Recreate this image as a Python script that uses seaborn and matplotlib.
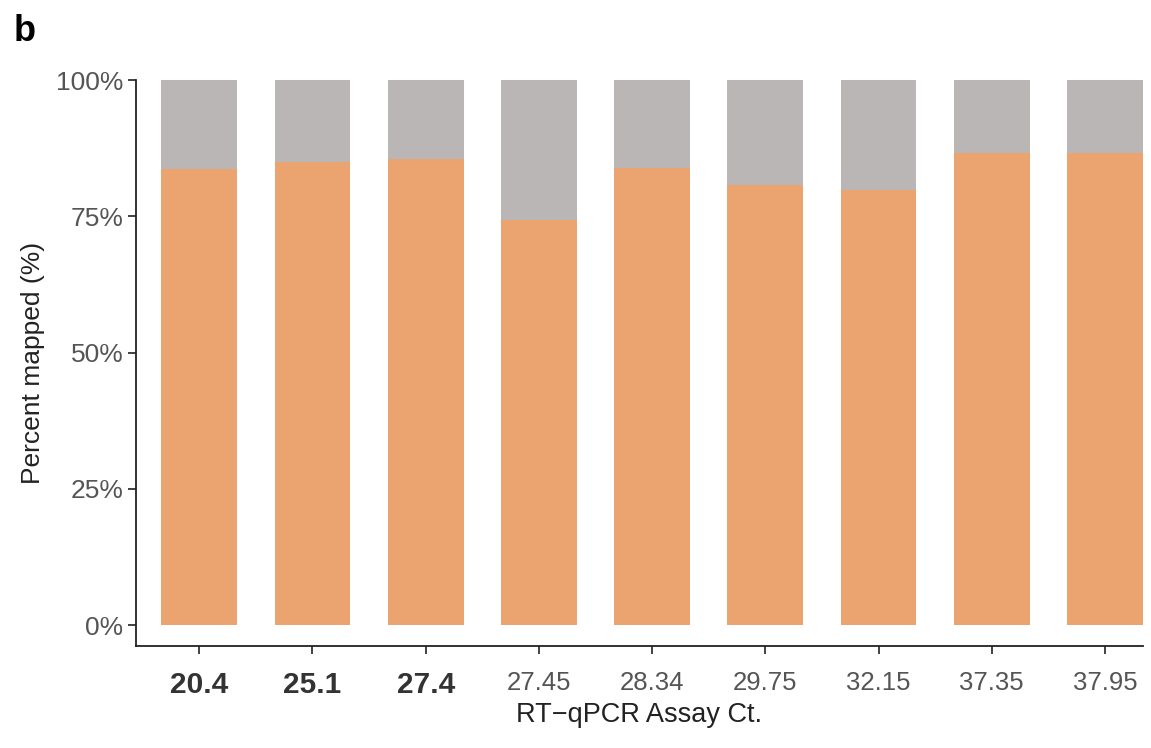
import matplotlib
matplotlib.use("Agg")
import matplotlib.pyplot as plt
import seaborn as sns
import pandas as pd

categories = ["20.4", "25.1", "27.4", "27.45", "28.34", "29.75", "32.15", "37.35", "37.95"]
mapped = [0.837, 0.850, 0.855, 0.743, 0.839, 0.807, 0.798, 0.866, 0.866]
total = [1.0] * len(categories)
bold_labels = ["20.4", "25.1", "27.4"]

df = pd.DataFrame({"ct": categories, "mapped": mapped, "total": total})

sns.set_theme(style="white")
plt.rcParams["font.family"] = ["Liberation Sans", "DejaVu Sans"]

fig = plt.figure(figsize=(11.51, 7.48), dpi=100)
ax = fig.add_axes([0.118, 0.136, 0.875, 0.757])

sns.barplot(data=df, x="ct", y="total", color="#B9B6B5", width=0.67,
            saturation=1, ax=ax, order=categories, linewidth=0)
sns.barplot(data=df, x="ct", y="mapped", color="#EBA46F", width=0.67,
            saturation=1, ax=ax, order=categories, linewidth=0)

ax.set_ylim(-0.039, 1.0)
ax.set_xlim(-0.56, 8.335)
ax.set_yticks([0, 0.25, 0.5, 0.75, 1.0])
ax.set_yticklabels(["0%", "25%", "50%", "75%", "100%"])
ax.tick_params(axis="both", which="both", direction="out", length=6, width=1.3,
               color="#333333", labelcolor="#555555", pad=3,
               left=True, bottom=True)
ax.tick_params(axis="y", labelsize=19)
ax.tick_params(axis="x", labelsize=18.5, pad=12)
for lbl in ax.get_xticklabels():
    if lbl.get_text() in bold_labels:
        lbl.set_fontweight("bold")
        lbl.set_color("#333333")
        lbl.set_fontsize(21.5)

for s in ["top", "right"]:
    ax.spines[s].set_visible(False)
for s in ["left", "bottom"]:
    ax.spines[s].set_color("#222222")
    ax.spines[s].set_linewidth(1.3)

ax.set_xlabel("RT\u2212qPCR Assay Ct.", fontsize=19.5, color="#222222", labelpad=2)
ax.set_ylabel("Percent mapped (%)", fontsize=19, color="#222222", labelpad=8)

fig.text(0.012, 0.958, "b", fontsize=26, fontweight="bold", color="black",
         ha="left", va="center")

fig.savefig("out.png", dpi=100)
